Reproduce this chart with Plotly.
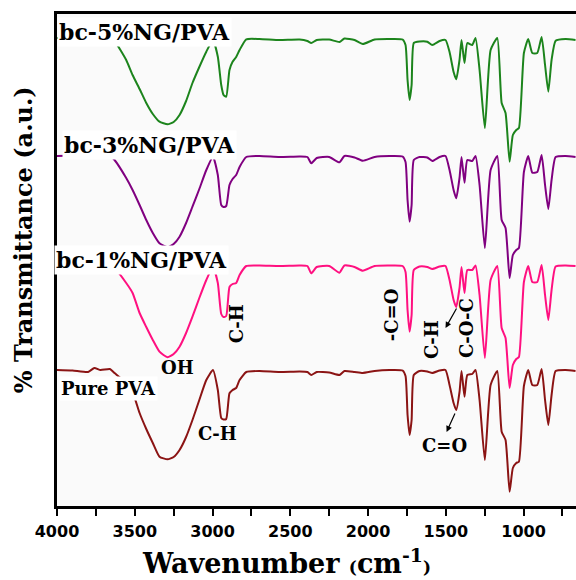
import plotly.graph_objects as go

# Wavenumber grid (cm-1) shared by all spectra
wavenumber = [4000, 3900, 3800, 3760, 3720, 3660, 3630, 3555, 3514, 3469,
              3426, 3384, 3341, 3289, 3250, 3212, 3170, 3129, 3085, 3040,
              2997, 2966, 2944, 2929, 2912, 2891, 2871, 2848, 2826, 2783,
              2698, 2569, 2440, 2390, 2365, 2330, 2250, 2184, 2152, 2087,
              2034, 1958, 1862, 1778, 1759, 1746, 1733, 1720, 1706, 1669,
              1619, 1587, 1540, 1502, 1476, 1450, 1433, 1412, 1399, 1380,
              1362, 1330, 1309, 1283, 1249, 1212, 1169, 1141, 1116, 1090,
              1069, 1047, 1030, 998, 970, 944, 912, 884, 862, 841,
              820, 794, 730, 666]

# Transmittance (a.u., stacked) for each sample
bc5_ng_pva = [468, 467.5, 465, 469, 467, 468, 465, 446, 431, 417,
              403, 392, 384.3, 381.7, 384, 391, 405, 423, 439, 454.3,
              466, 449.3, 421, 411, 409.3, 436, 444.3, 449, 456, 466.7,
              467, 466, 466.5, 465, 463, 466, 466.5, 464, 467.5, 466,
              462, 466.5, 467, 466.5, 461, 426, 406, 421, 463, 464.5,
              464.3, 461, 465, 466, 454, 434, 426.7, 446, 466, 443,
              463, 461, 468, 436, 378, 456, 468, 403, 393, 344.3,
              371, 376, 378, 453, 467, 453, 453, 469, 441, 414.3,
              446, 465.3, 467, 466]

bc3_ng_pva = [350, 350.5, 349, 351, 350, 350.5, 346, 328, 316, 301,
              286, 273, 262.7, 258.7, 262, 269.3, 283, 299.3, 317, 336,
              349.3, 331, 301, 299, 300, 321, 327, 331, 339, 349,
              350, 349, 349.5, 349, 342.7, 348, 349, 343.7, 350, 348.5,
              345.3, 349, 350, 349.5, 344, 306, 284.3, 301, 346, 349,
              348.5, 345, 349, 350, 336, 316, 307.7, 328, 349, 323.3,
              346, 345, 350, 321, 258, 336, 350, 286, 278, 228,
              251, 256, 258, 334, 350, 333.3, 334, 351, 321, 297,
              326, 349, 350, 349]

bc1_ng_pva = [240.5, 241, 240, 241.5, 240, 240.5, 238, 223, 213, 193,
              179, 166, 154.3, 148.7, 152, 159.3, 173, 189.3, 208, 226,
              239.3, 223, 192, 189, 190, 219, 222, 223, 231, 240,
              240.5, 240, 240.5, 240, 232.7, 239, 240, 233.3, 240.5, 239,
              235.3, 240, 240.5, 240, 234, 196, 174.3, 191, 236, 239.5,
              239, 237, 239.5, 240, 226, 206, 199, 218, 239, 213,
              236, 236, 240.5, 211, 148, 226, 240, 178, 168, 118,
              141, 147, 149, 224, 240, 224, 224, 241, 211, 186,
              216, 239.5, 240.5, 240]

pure_pva = [136, 135.5, 134, 138, 136, 137, 133, 123, 114, 93,
            77, 63, 49.3, 46.7, 49, 56, 69, 86, 106, 126,
            136, 116, 88, 86.5, 87, 112.7, 116, 118, 126, 134,
            135, 134, 134.5, 134, 131, 134, 133.5, 131, 135, 134,
            133, 135, 136, 135.5, 130, 91, 71, 86, 131, 135,
            134.5, 133, 135.5, 136, 121, 103, 96, 114, 135, 109.3,
            131, 132, 136, 106, 46, 121, 135, 74.3, 66, 14.3,
            38, 43, 44.3, 120, 136, 121, 121, 137, 106, 81,
            111, 135, 136, 135]

series_names = ["bc-5%NG/PVA", "bc-3%NG/PVA", "bc-1%NG/PVA", "Pure PVA"]
series_colors = ["#1c841c", "#800080", "#ff1080", "#8b1414"]

tick_vals = [4000, 3750, 3500, 3250, 3000, 2750, 2500, 2250, 2000, 1750, 1500, 1250, 1000, 750]
tick_text = ["4000", "", "3500", "", "3000", "", "2500", "", "2000", "", "1500", "", "1000", ""]

SERIF = "DejaVu Serif"
fig = go.Figure()
for name, vals, col in zip(series_names, [bc5_ng_pva, bc3_ng_pva, bc1_ng_pva, pure_pva], series_colors):
    fig.add_trace(go.Scatter(x=wavenumber, y=vals, mode="lines", name=name,
                             line=dict(color=col, width=2, shape="spline", smoothing=0.5),
                             showlegend=False))

def label(text, x, y, size=20, angle=0, bg=None):
    fig.add_annotation(x=x, y=y, xref="x", yref="y", text=text, showarrow=False,
                       textangle=angle, bgcolor=bg, xanchor="center", yanchor="middle",
                       font=dict(family=SERIF, size=size, color="black", weight="bold"))

label("bc-5%NG/PVA", 3437, 474, 22, bg="white")
label("bc-3%NG/PVA", 3405, 361, 22, bg="white")
label("bc-1%NG/PVA", 3457, 246, 22, bg="white")
label("Pure PVA", 3669, 118, 18, bg="white")
label("OH", 3223, 139, 18)
label("C-H", 2848, 182, 18, angle=-90)
label("C-H", 2966, 73, 18)
label("-C=O", 1851, 191, 18, angle=-90)
label("C-H", 1595, 166, 18, angle=-90)
label("C-O-C", 1370, 178, 18, angle=-90)
label("C=O", 1506, 61, 18)

for hx, hy, tx, ty in [(1495, 74, 1437, 94), (1502, 178, 1426, 199)]:
    fig.add_annotation(x=hx, y=hy, ax=tx, ay=ty, xref="x", yref="y", axref="x", ayref="y",
                       text="", showarrow=True, arrowhead=2, arrowsize=1, arrowwidth=1.2,
                       arrowcolor="black")

# Axis titles
fig.add_annotation(x=-0.063, y=0.541, xref="paper", yref="paper", text="% Transmittance (a.u.)",
                   textangle=-90, showarrow=False, xanchor="center", yanchor="middle",
                   font=dict(family=SERIF, size=24, color="black", weight="bold"))
fig.add_annotation(x=0.442, y=-0.112, xref="paper", yref="paper",
                   text="Wavenumber <span style='font-size:17px'>(</span>cm<sup>-1</sup><span style='font-size:17px'>)</span>",
                   showarrow=False, xanchor="center", yanchor="middle",
                   font=dict(family=SERIF, size=27, color="black", weight="bold"))

fig.update_layout(
    width=576, height=580,
    margin=dict(l=57, r=0, t=14, b=74),
    paper_bgcolor="white", plot_bgcolor="#fafafa",
    xaxis=dict(range=[4000, 663], tickvals=tick_vals, ticktext=tick_text,
               showgrid=False, zeroline=False, showline=True, linecolor="black",
               linewidth=2.5, mirror=True, ticks="outside", ticklen=7, tickwidth=2,
               tickcolor="black", ticklabelstandoff=2,
               tickfont=dict(family="DejaVu Sans", size=16, color="black", weight="bold")),
    yaxis=dict(range=[0, 492], showticklabels=False, showgrid=False, zeroline=False,
               showline=True, linecolor="black", linewidth=2.5, ticks=""),
)

fig.write_html("out.html")
